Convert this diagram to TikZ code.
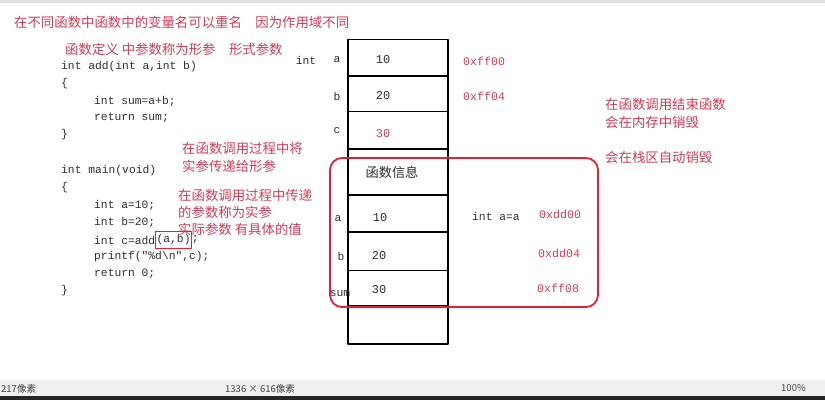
\documentclass[tikz,border=0pt]{standalone}
\usepackage{fontspec}
\setmainfont{Liberation Serif}
\setmonofont{Liberation Mono}
\newfontfamily\cjk{Noto Sans CJK SC}
\usetikzlibrary{positioning}
\definecolor{notered}{RGB}{204,62,88}
\definecolor{boxred}{RGB}{226,34,52}
\definecolor{codegray}{RGB}{48,48,48}
\definecolor{barbg}{RGB}{240,240,242}
\tikzset{
  note/.style={anchor=west, inner sep=0pt, text=notered, align=left,
    font=\cjk\fontsize{13.4}{17.2}\selectfont},
  code/.style={anchor=west, inner sep=0pt, text=codegray,
    font=\ttfamily\fontsize{11.3}{14}\selectfont},
  addr/.style={code, text=notered, font=\ttfamily\fontsize{11.6}{14}\selectfont},
  varname/.style={inner sep=0pt, text=codegray, font=\ttfamily\fontsize{11.3}{14}\selectfont},
  cellval/.style={inner sep=0pt, text=codegray, font=\ttfamily\fontsize{12}{14}\selectfont},
  cellline/.style={line width=1.6pt, black},
  bartext/.style={anchor=west, inner sep=0pt, text=black!75, font=\cjk\fontsize{9.5}{11}\selectfont}
}
\begin{document}
\begin{tikzpicture}[x=1pt, y=-1pt, line cap=round, line join=round]
  \useasboundingbox (0,0) rectangle (825,400);
  \fill[white] (0,0) rectangle (825,400);
  \fill[gray!25] (0,0) rectangle (825,3);

  % notes on the left
  \node[note] (title) at (14,22) {在不同函数中函数中的变量名可以重名\quad 因为作用域不同};
  \node[note] (formal) at (65,49) {函数定义 中参数称为形参\quad 形式参数};
  \node[note] (pass) at (182,157.5) {在函数调用过程中将\\实参传递给形参};
  \node[note] (actual) at (178,212.5) {在函数调用过程中传递\\的参数称为实参\\实际参数 有具体的值};

  % code
  \node[code] (add)    at (61,67)  {int add(int a,int b)};
  \node[code] (addo)   at (61,84)  {\{};
  \node[code] (sum)    at (94,101) {int sum=a+b;};
  \node[code] (ret)    at (94,118) {return sum;};
  \node[code] (addc)   at (61,135) {\}};
  \node[code] (main)   at (61,171) {int main(void)};
  \node[code] (maino)  at (61,188) {\{};
  \node[code] (inta)   at (94,205) {int a=10;};
  \node[code] (intb)   at (94,222) {int b=20;};
  \node[code] (intc)   at (94,240) {int c=add};
  \node[code, draw=boxred, line width=0.8pt, inner xsep=0.8pt, inner ysep=3pt,
        right=0pt of intc] (args) {(a,b)};
  \node[code, right=0pt of args] (semi) {;};
  \node[code] (print)  at (94,257) {printf("\%d\textbackslash n",c);};
  \node[code] (ret0)   at (94,274) {return 0;};
  \node[code] (mainc)  at (61,291) {\}};

  % stack
  \draw[cellline] (348,39.5) rectangle (448,344);
  \foreach \yy in {75.7,111.5,149,195,232,270.5,306}
    \draw[cellline] (348,\yy) -- (448,\yy);

  \node[varname] (tint) at (306,60) {int};
  \node[varname] (na) at (337,60)  {a};
  \node[varname] (nb) at (337,96)  {b};
  \node[varname] (nc) at (337,131) {c};
  \node[cellval] (va) at (383,60)  {10};
  \node[cellval] (vb) at (383,96)  {20};
  \node[cellval, text=notered] (vc) at (383,134) {30};
  \node[inner sep=0pt, text=codegray, font=\cjk\fontsize{13.2}{15}\selectfont]
       (info) at (392,172) {函数信息};
  \node[varname] (pa) at (338,219) {a};
  \node[varname] (pb) at (341,256) {b};
  \node[varname] (psum) at (340,294) {sum};
  \node[cellval] (qa) at (380,218) {10};
  \node[cellval] (qb) at (379,256) {20};
  \node[cellval] (qs) at (379,290) {30};

  % addresses
  \node[addr] (ff00) at (463,61)  {0xff00};
  \node[addr] (ff04) at (463,96)  {0xff04};
  \node[code] (inaa) at (472,216) {int a=a};
  \node[addr] (dd00) at (539,214) {0xdd00};
  \node[addr] (dd04) at (538,253) {0xdd04};
  \node[addr] (ff08) at (537,288) {0xff08};

  % frame of the called function
  \draw[boxred, line width=1.8pt, rounded corners=12pt] (330,158) rectangle (598,307);

  % notes on the right
  \node[note] (ends) at (605,113.5) {在函数调用结束函数\\会在内存中销毁};
  \node[note] (stack) at (605,157) {会在栈区自动销毁};

  % status bar
  \fill[barbg] (0,380) rectangle (825,396);
  \fill[black!85] (0,396) rectangle (825,400);
  \node[bartext] (px) at (1,388.5) {217像素};
  \node[bartext] (size) at (225,388.5) {1336 × 616像素};
  \node[bartext] (zoomv) at (781,388.5) {100\%};
\end{tikzpicture}
\end{document}
